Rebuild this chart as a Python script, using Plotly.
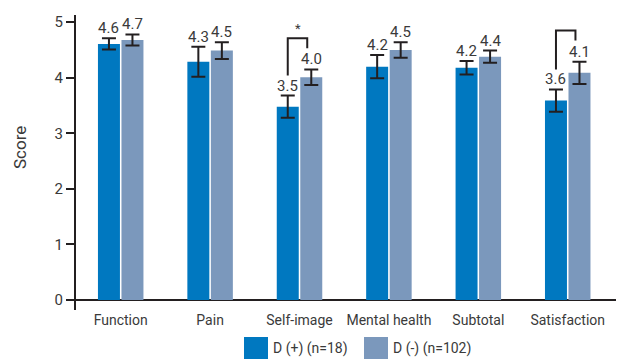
import plotly.graph_objects as go

categories = ["Function", "Pain", "Self-image", "Mental health", "Subtotal", "Satisfaction"]
d_pos_name = "D (+) (n=18)"
d_neg_name = "D (-) (n=102)"
d_pos_mean = [4.61, 4.29, 3.48, 4.20, 4.18, 3.59]
d_pos_err = [0.10, 0.27, 0.20, 0.21, 0.12, 0.20]
d_neg_mean = [4.68, 4.49, 4.01, 4.50, 4.38, 4.09]
d_neg_err = [0.10, 0.15, 0.14, 0.14, 0.11, 0.20]
# significance brackets: (category index, star text)
sig_pairs = [(2, "*"), (5, "")]
y_ticks = [0, 1, 2, 3, 4, 5]

FONT = "Roboto, Liberation Sans, sans-serif"
C_POS = "#0078c0"
C_NEG = "#7b98bc"
DARK = "#231f20"
TXT = "#3a3a3a"

W, H = 618, 359
L, R, T, B = 76, 2, 15, 49
BARGAP = 0.474
BARGROUPGAP = 0.065
half = (1 - BARGAP) / 4  # offset of each bar centre from category centre

xs = list(range(len(categories)))

def px_x(p):
    return (p - L) / (W - L - R)

def px_y(p):
    return (H - B - p) / (H - T - B)

fig = go.Figure()
for name, mean, err, col in [(d_pos_name, d_pos_mean, d_pos_err, C_POS),
                             (d_neg_name, d_neg_mean, d_neg_err, C_NEG)]:
    fig.add_trace(go.Bar(
        x=xs, y=mean, name=name, marker=dict(color=col, line=dict(width=0)),
        error_y=dict(type="data", array=err, visible=True, color=DARK,
                     thickness=2, width=7),
        showlegend=False,
    ))

annotations = []
for i in xs:
    for sgn, mean, err in [(-1, d_pos_mean, d_pos_err), (1, d_neg_mean, d_neg_err)]:
        annotations.append(dict(
            x=i + sgn * half, y=mean[i] + err[i], xref="x", yref="y",
            text=f"{mean[i]:.1f}", showarrow=False, yanchor="bottom",
            xanchor="center", yshift=-1,
            font=dict(family=FONT, size=15, color=TXT),
        ))

shapes = []
for i, star in sig_pairs:
    xl = i - half
    xr = i + half - 0.045
    yl = d_pos_mean[i] + d_pos_err[i] + 0.36
    yr = d_neg_mean[i] + d_neg_err[i] + 0.38
    ytop = max(yl, yr) + 0.18
    shapes.append(dict(type="path", xref="x", yref="y",
                       path=f"M {xl},{yl} L {xl},{ytop} L {xr},{ytop} L {xr},{yr}",
                       line=dict(color=DARK, width=2)))
    if star:
        annotations.append(dict(x=(xl + xr) / 2, y=ytop, xref="x", yref="y",
                                text=star, showarrow=False, yanchor="bottom",
                                yshift=0, font=dict(family=FONT, size=13, color=TXT)))

# y-axis title
annotations.append(dict(x=px_x(20), y=px_y(148), xref="paper", yref="paper",
                        text="Score", textangle=-90, showarrow=False,
                        xanchor="center", yanchor="middle",
                        font=dict(family=FONT, size=17, color=TXT)))

# manual legend
for (x0, name, col) in [(244, d_pos_name, C_POS), (364, d_neg_name, C_NEG)]:
    shapes.append(dict(type="rect", xref="paper", yref="paper",
                       x0=px_x(x0), x1=px_x(x0 + 24), y0=px_y(337), y1=px_y(359),
                       fillcolor=col, line=dict(width=0)))
    annotations.append(dict(x=px_x(x0 + 27), y=px_y(348), xref="paper", yref="paper",
                            text=name, showarrow=False, xanchor="left", yanchor="middle",
                            font=dict(family=FONT, size=14, color=TXT)))

fig.update_layout(
    width=W, height=H, margin=dict(l=L, r=R, t=T, b=B, autoexpand=False),
    paper_bgcolor="white", plot_bgcolor="white",
    barmode="group", bargap=BARGAP, bargroupgap=BARGROUPGAP,
    font=dict(family=FONT, color=TXT),
    shapes=shapes, annotations=annotations,
    xaxis=dict(tickvals=xs, ticktext=categories, range=[-0.5, 5.54],
               showgrid=False, zeroline=False, showline=False, ticks="",
               tickangle=0, automargin=False,
               tickfont=dict(family=FONT, size=14, color=TXT), fixedrange=True),
    yaxis=dict(range=[-0.18, 5.13], tickvals=y_ticks, showgrid=False,
               zeroline=True, zerolinecolor=DARK, zerolinewidth=2,
               showline=True, linecolor=DARK, linewidth=2, automargin=False,
               ticks="outside", ticklen=8, tickwidth=2, tickcolor=DARK,
               tickfont=dict(family=FONT, size=15, color=TXT), fixedrange=True),
)

fig.write_html("out.html")
